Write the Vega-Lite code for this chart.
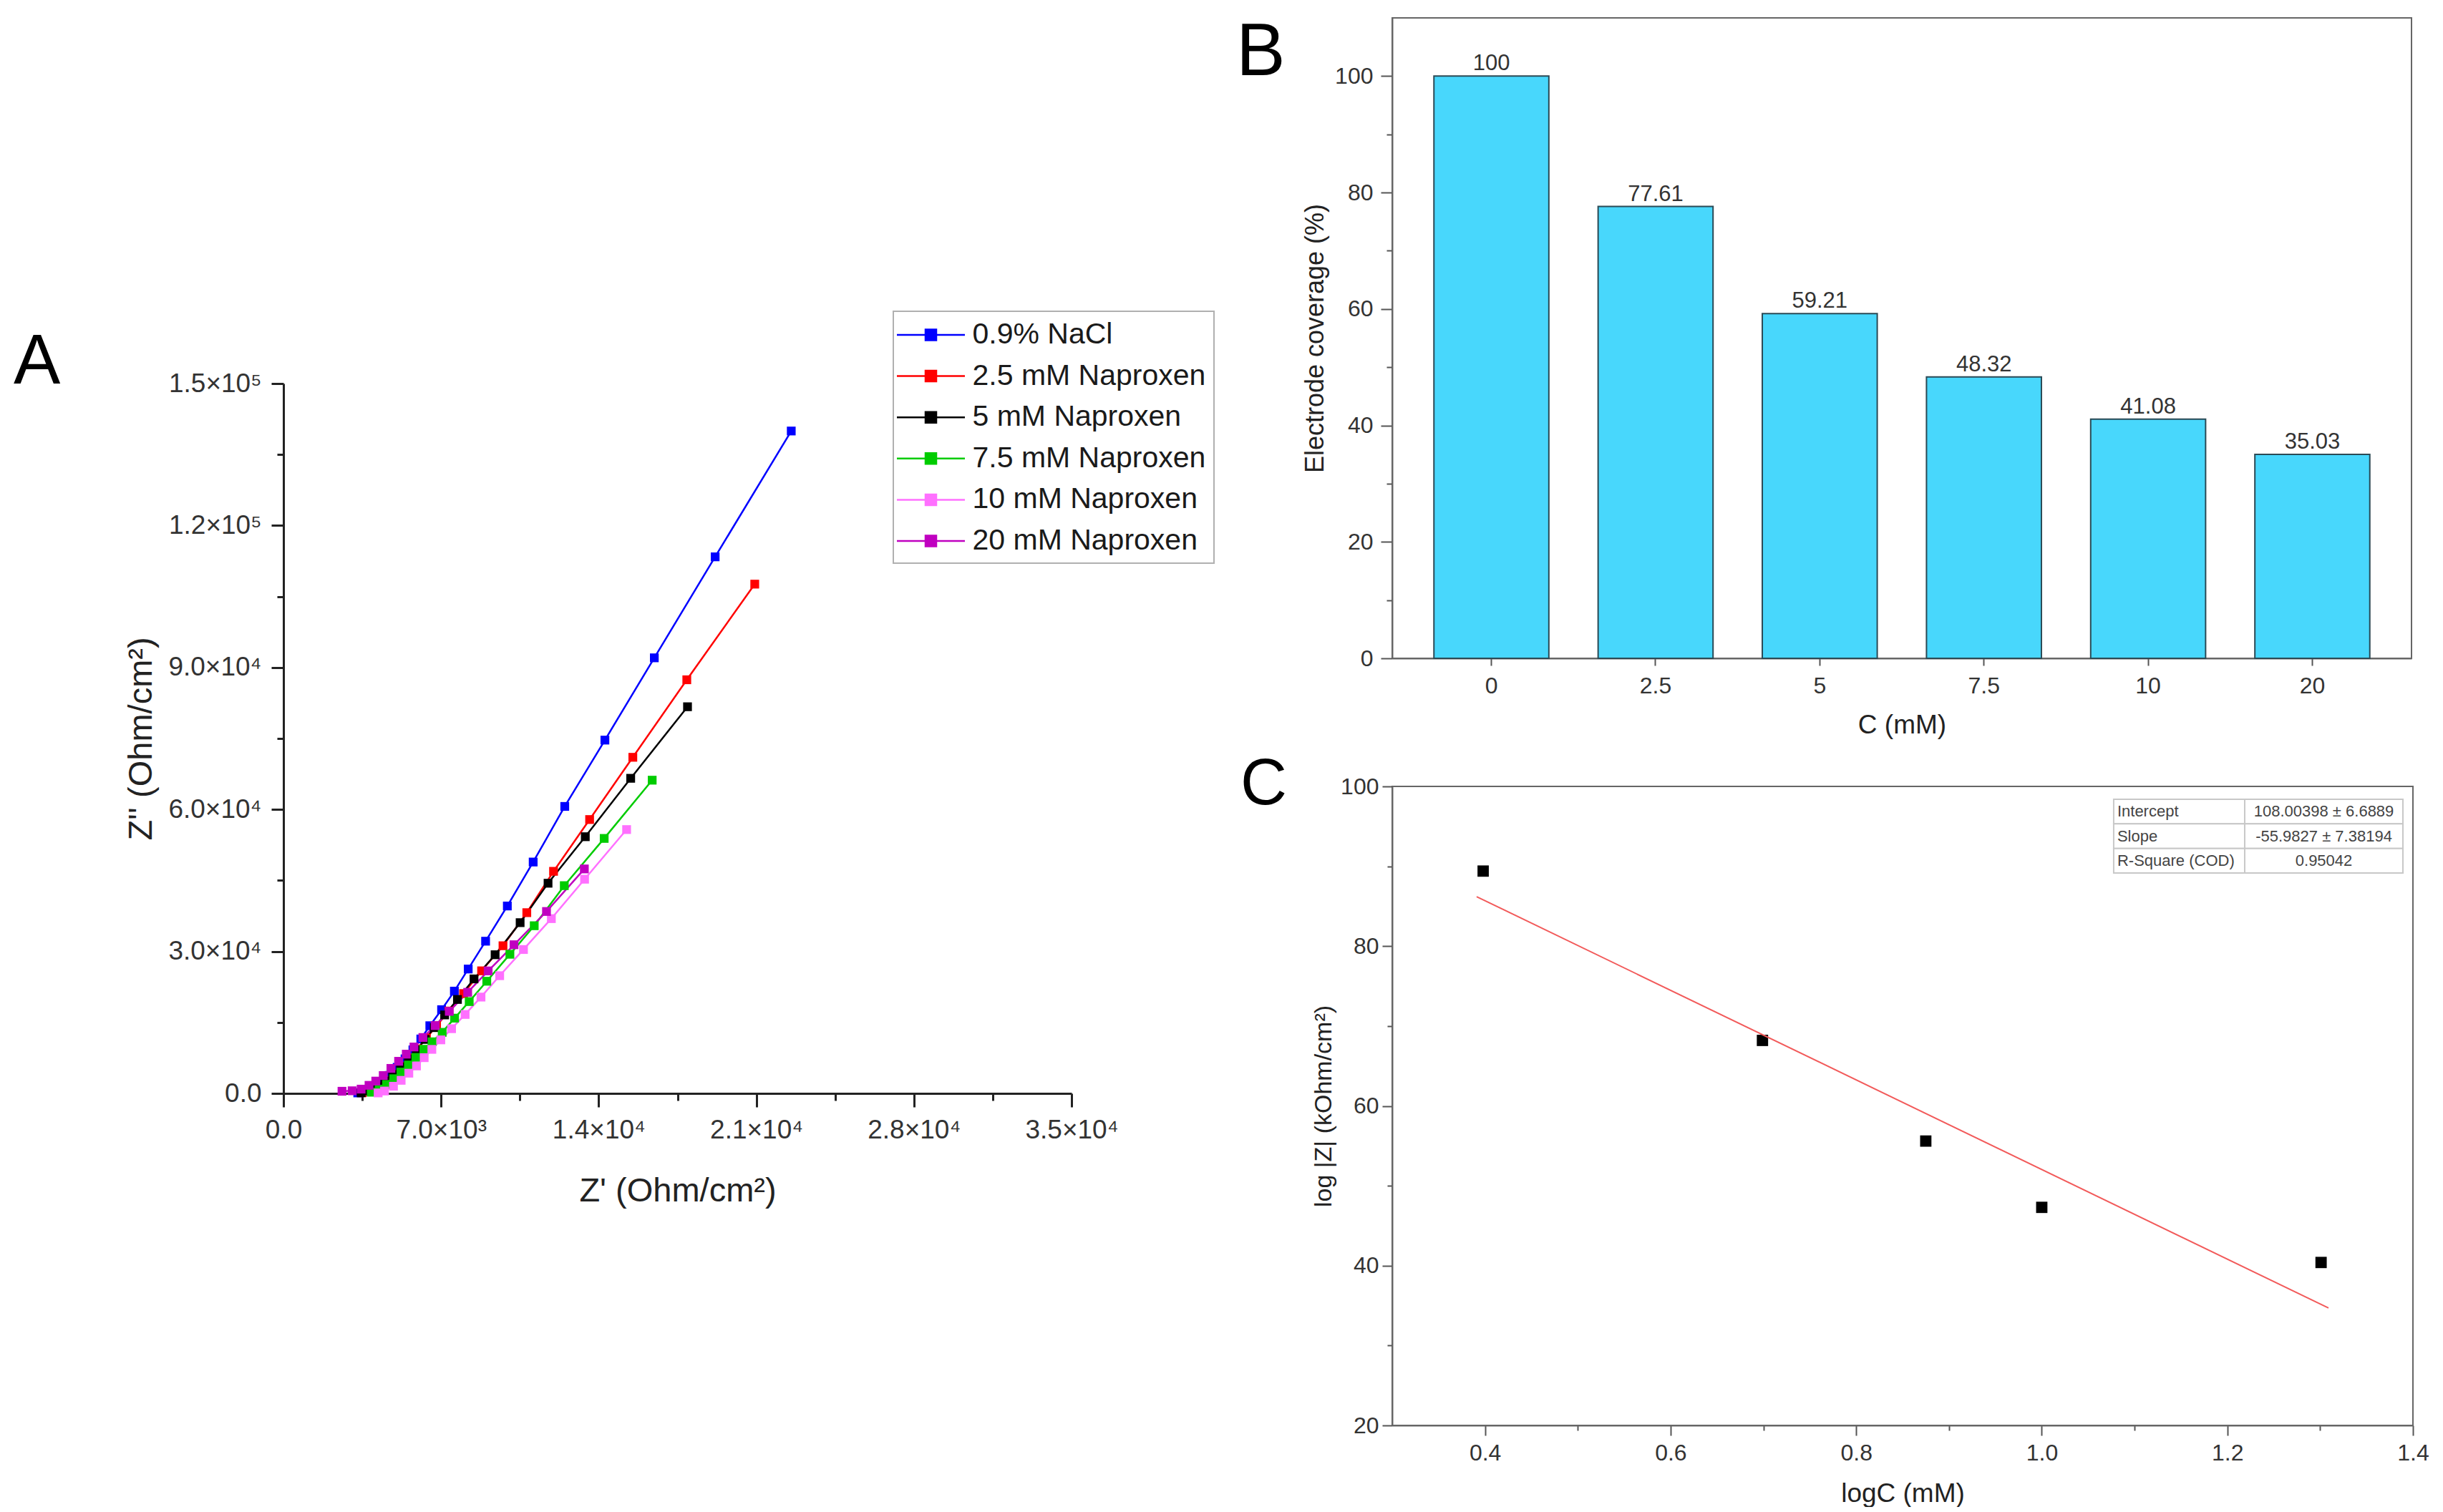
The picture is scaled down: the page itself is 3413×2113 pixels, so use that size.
{
  "$schema": "https://vega.github.io/schema/vega-lite/v6.json",
  "background": "white",
  "padding": {"left": 19, "top": 22, "right": 0, "bottom": 0},
  "config": {
    "view": {"stroke": null},
    "axis": {"grid": false, "labelOverlap": false, "labelFlush": false, "titleFontWeight": "normal"},
    "title": {"font": "Liberation Sans", "fontWeight": "normal", "color": "#000000", "anchor": "start", "frame": "group", "baseline": "alphabetic", "offset": 0}
  },
  "bounds": "flush",
  "spacing": 1549,
  "hconcat": [
    {
      "bounds": "flush",
      "spacing": 510,
      "vconcat": [
        {
          "width": 1,
          "height": 1,
          "data": {"values": [{}]},
          "mark": {"type": "point", "opacity": 0},
          "encoding": {}
        },
        {
          "width": 1101,
          "height": 992,
          "title": {"text": "A", "fontSize": 98, "dx": -377, "dy": 44},
          "data": {
            "values": [
              {"series": "0.9% NaCl", "zre": 3300, "zim": 100},
              {"series": "0.9% NaCl", "zre": 3650, "zim": 400},
              {"series": "0.9% NaCl", "zre": 4000, "zim": 1100},
              {"series": "0.9% NaCl", "zre": 4350, "zim": 2300},
              {"series": "0.9% NaCl", "zre": 4700, "zim": 3800},
              {"series": "0.9% NaCl", "zre": 5050, "zim": 5500},
              {"series": "0.9% NaCl", "zre": 5400, "zim": 7300},
              {"series": "0.9% NaCl", "zre": 5750, "zim": 9200},
              {"series": "0.9% NaCl", "zre": 6100, "zim": 11500},
              {"series": "0.9% NaCl", "zre": 6500, "zim": 14300},
              {"series": "0.9% NaCl", "zre": 7023, "zim": 17690},
              {"series": "0.9% NaCl", "zre": 7591, "zim": 21610},
              {"series": "0.9% NaCl", "zre": 8205, "zim": 26280},
              {"series": "0.9% NaCl", "zre": 8977, "zim": 32160},
              {"series": "0.9% NaCl", "zre": 9943, "zim": 39600},
              {"series": "0.9% NaCl", "zre": 11090, "zim": 48890},
              {"series": "0.9% NaCl", "zre": 12493, "zim": 60640},
              {"series": "0.9% NaCl", "zre": 14276, "zim": 74655},
              {"series": "0.9% NaCl", "zre": 16470, "zim": 92040},
              {"series": "0.9% NaCl", "zre": 19172, "zim": 113380},
              {"series": "0.9% NaCl", "zre": 22552, "zim": 139970},
              {"series": "2.5 mM Naproxen", "zre": 3500, "zim": 150},
              {"series": "2.5 mM Naproxen", "zre": 3850, "zim": 600},
              {"series": "2.5 mM Naproxen", "zre": 4200, "zim": 1500},
              {"series": "2.5 mM Naproxen", "zre": 4550, "zim": 2700},
              {"series": "2.5 mM Naproxen", "zre": 4900, "zim": 4100},
              {"series": "2.5 mM Naproxen", "zre": 5250, "zim": 5700},
              {"series": "2.5 mM Naproxen", "zre": 5600, "zim": 7500},
              {"series": "2.5 mM Naproxen", "zre": 5950, "zim": 9400},
              {"series": "2.5 mM Naproxen", "zre": 6350, "zim": 11700},
              {"series": "2.5 mM Naproxen", "zre": 6800, "zim": 14300},
              {"series": "2.5 mM Naproxen", "zre": 7350, "zim": 17400},
              {"series": "2.5 mM Naproxen", "zre": 8000, "zim": 21100},
              {"series": "2.5 mM Naproxen", "zre": 8800, "zim": 25900},
              {"series": "2.5 mM Naproxen", "zre": 9750, "zim": 31200},
              {"series": "2.5 mM Naproxen", "zre": 10807, "zim": 38190},
              {"series": "2.5 mM Naproxen", "zre": 11995, "zim": 46925},
              {"series": "2.5 mM Naproxen", "zre": 13597, "zim": 57870},
              {"series": "2.5 mM Naproxen", "zre": 15516, "zim": 71023},
              {"series": "2.5 mM Naproxen", "zre": 17913, "zim": 87403},
              {"series": "2.5 mM Naproxen", "zre": 20931, "zim": 107613},
              {"series": "5 mM Naproxen", "zre": 3450, "zim": 120},
              {"series": "5 mM Naproxen", "zre": 3800, "zim": 550},
              {"series": "5 mM Naproxen", "zre": 4150, "zim": 1400},
              {"series": "5 mM Naproxen", "zre": 4500, "zim": 2600},
              {"series": "5 mM Naproxen", "zre": 4850, "zim": 4000},
              {"series": "5 mM Naproxen", "zre": 5200, "zim": 5600},
              {"series": "5 mM Naproxen", "zre": 5550, "zim": 7300},
              {"series": "5 mM Naproxen", "zre": 5900, "zim": 9200},
              {"series": "5 mM Naproxen", "zre": 6300, "zim": 11400},
              {"series": "5 mM Naproxen", "zre": 6700, "zim": 13900},
              {"series": "5 mM Naproxen", "zre": 7159, "zim": 16580},
              {"series": "5 mM Naproxen", "zre": 7727, "zim": 19850},
              {"series": "5 mM Naproxen", "zre": 8463, "zim": 24190},
              {"series": "5 mM Naproxen", "zre": 9400, "zim": 29300},
              {"series": "5 mM Naproxen", "zre": 10511, "zim": 36080},
              {"series": "5 mM Naproxen", "zre": 11751, "zim": 44410},
              {"series": "5 mM Naproxen", "zre": 13405, "zim": 54240},
              {"series": "5 mM Naproxen", "zre": 15421, "zim": 66582},
              {"series": "5 mM Naproxen", "zre": 17945, "zim": 81703},
              {"series": "7.5 mM Naproxen", "zre": 3900, "zim": 250},
              {"series": "7.5 mM Naproxen", "zre": 4250, "zim": 900},
              {"series": "7.5 mM Naproxen", "zre": 4580, "zim": 1900},
              {"series": "7.5 mM Naproxen", "zre": 4900, "zim": 3100},
              {"series": "7.5 mM Naproxen", "zre": 5220, "zim": 4500},
              {"series": "7.5 mM Naproxen", "zre": 5550, "zim": 6000},
              {"series": "7.5 mM Naproxen", "zre": 5880, "zim": 7600},
              {"series": "7.5 mM Naproxen", "zre": 6236, "zim": 9320},
              {"series": "7.5 mM Naproxen", "zre": 6600, "zim": 10900},
              {"series": "7.5 mM Naproxen", "zre": 7050, "zim": 12900},
              {"series": "7.5 mM Naproxen", "zre": 7600, "zim": 15900},
              {"series": "7.5 mM Naproxen", "zre": 8250, "zim": 19400},
              {"series": "7.5 mM Naproxen", "zre": 9030, "zim": 23700},
              {"series": "7.5 mM Naproxen", "zre": 10057, "zim": 29400},
              {"series": "7.5 mM Naproxen", "zre": 11137, "zim": 35430},
              {"series": "7.5 mM Naproxen", "zre": 12472, "zim": 43900},
              {"series": "7.5 mM Naproxen", "zre": 14244, "zim": 53880},
              {"series": "7.5 mM Naproxen", "zre": 16376, "zim": 66185},
              {"series": "10 mM Naproxen", "zre": 4205, "zim": 100},
              {"series": "10 mM Naproxen", "zre": 4489, "zim": 500},
              {"series": "10 mM Naproxen", "zre": 4886, "zim": 1510},
              {"series": "10 mM Naproxen", "zre": 5227, "zim": 2760},
              {"series": "10 mM Naproxen", "zre": 5568, "zim": 4270},
              {"series": "10 mM Naproxen", "zre": 5909, "zim": 5800},
              {"series": "10 mM Naproxen", "zre": 6250, "zim": 7550},
              {"series": "10 mM Naproxen", "zre": 6591, "zim": 9300},
              {"series": "10 mM Naproxen", "zre": 6989, "zim": 11310},
              {"series": "10 mM Naproxen", "zre": 7466, "zim": 13670},
              {"series": "10 mM Naproxen", "zre": 8068, "zim": 16680},
              {"series": "10 mM Naproxen", "zre": 8773, "zim": 20350},
              {"series": "10 mM Naproxen", "zre": 9603, "zim": 24870},
              {"series": "10 mM Naproxen", "zre": 10659, "zim": 30400},
              {"series": "10 mM Naproxen", "zre": 11898, "zim": 36930},
              {"series": "10 mM Naproxen", "zre": 13373, "zim": 45260},
              {"series": "10 mM Naproxen", "zre": 15240, "zim": 55750},
              {"series": "20 mM Naproxen", "zre": 2600, "zim": 450},
              {"series": "20 mM Naproxen", "zre": 3050, "zim": 550},
              {"series": "20 mM Naproxen", "zre": 3450, "zim": 900},
              {"series": "20 mM Naproxen", "zre": 3800, "zim": 1700},
              {"series": "20 mM Naproxen", "zre": 4100, "zim": 2600},
              {"series": "20 mM Naproxen", "zre": 4432, "zim": 3770},
              {"series": "20 mM Naproxen", "zre": 4773, "zim": 5280},
              {"series": "20 mM Naproxen", "zre": 5114, "zim": 6780},
              {"series": "20 mM Naproxen", "zre": 5455, "zim": 8290},
              {"series": "20 mM Naproxen", "zre": 5796, "zim": 9800},
              {"series": "20 mM Naproxen", "zre": 6193, "zim": 11810},
              {"series": "20 mM Naproxen", "zre": 6739, "zim": 14320},
              {"series": "20 mM Naproxen", "zre": 7364, "zim": 17340},
              {"series": "20 mM Naproxen", "zre": 8182, "zim": 21360},
              {"series": "20 mM Naproxen", "zre": 9091, "zim": 25880},
              {"series": "20 mM Naproxen", "zre": 10239, "zim": 31410},
              {"series": "20 mM Naproxen", "zre": 11682, "zim": 38440},
              {"series": "20 mM Naproxen", "zre": 13363, "zim": 47430}
            ]
          },
          "encoding": {
            "x": {
              "field": "zre",
              "type": "quantitative",
              "scale": {"domain": [0, 35000], "nice": false, "zero": false},
              "axis": {
                "title": "Z' (Ohm/cm²)",
                "values": [0, 3500, 7000, 10500, 14000, 17500, 21000, 24500, 28000, 31500, 35000],
                "labelExpr": "datum.value == 0 ? '0.0' : (datum.value % 7000 != 0 ? '' : format(datum.value / pow(10, floor(log(datum.value) / LN10 + 1e-9)), '.1f') + '×10' + substring('⁰¹²³⁴⁵⁶⁷⁸⁹', floor(log(datum.value) / LN10 + 1e-9), floor(log(datum.value) / LN10 + 1e-9) + 1))",
                "tickSize": {"condition": {"test": "datum.value % 7000 == 0", "value": 19}, "value": 10},
                "tickWidth": 3,
                "tickColor": "#222222",
                "domainColor": "#222222",
                "domainWidth": 3,
                "labelFont": "Liberation Sans",
                "labelFontSize": 37,
                "labelColor": "#333333",
                "labelPadding": 14,
                "titleFont": "Liberation Sans",
                "titleFontSize": 47,
                "titleColor": "#222222",
                "titlePadding": 44
              }
            },
            "y": {
              "field": "zim",
              "type": "quantitative",
              "scale": {"domain": [0, 150000], "nice": false, "zero": false},
              "axis": {
                "title": "Z'' (Ohm/cm²)",
                "values": [0, 15000, 30000, 45000, 60000, 75000, 90000, 105000, 120000, 135000, 150000],
                "labelExpr": "datum.value == 0 ? '0.0' : (datum.value % 30000 != 0 ? '' : format(datum.value / pow(10, floor(log(datum.value) / LN10 + 1e-9)), '.1f') + '×10' + substring('⁰¹²³⁴⁵⁶⁷⁸⁹', floor(log(datum.value) / LN10 + 1e-9), floor(log(datum.value) / LN10 + 1e-9) + 1))",
                "tickSize": {"condition": {"test": "datum.value % 30000 == 0", "value": 17}, "value": 9},
                "tickWidth": 3,
                "tickColor": "#222222",
                "domainColor": "#222222",
                "domainWidth": 3,
                "labelFont": "Liberation Sans",
                "labelFontSize": 37,
                "labelColor": "#333333",
                "labelPadding": 14,
                "titleFont": "Liberation Sans",
                "titleFontSize": 47,
                "titleColor": "#222222",
                "titlePadding": 13
              }
            },
            "color": {
              "field": "series",
              "type": "nominal",
              "scale": {
                "domain": ["0.9% NaCl", "2.5 mM Naproxen", "5 mM Naproxen", "7.5 mM Naproxen", "10 mM Naproxen", "20 mM Naproxen"],
                "range": ["#0000ff", "#ff0000", "#000000", "#00cc00", "#ff70ff", "#c000c0"]
              },
              "legend": {
                "title": null,
                "orient": "none",
                "legendX": 852,
                "legendY": 410,
                "direction": "vertical",
                "symbolType": "M-2.317,0H2.317M-0.366,-0.366H0.366V0.366H-0.366Z",
                "symbolSize": 1681,
                "symbolOffset": 19.5,
                "symbolStrokeWidth": 2.5,
                "symbolOpacity": 1,
                "labelFont": "Liberation Sans",
                "labelFontSize": 41,
                "labelColor": "#1a1a1a",
                "labelOffset": 36,
                "labelLimit": 1000,
                "rowPadding": 15.6,
                "padding": 11,
                "strokeColor": "#b0b0b0",
                "encode": {"legend": {"update": {"strokeWidth": {"value": 2}}}}
              }
            }
          },
          "layer": [
            {"mark": {"type": "line", "strokeWidth": 2.5}},
            {"mark": {"type": "point", "shape": "square", "filled": true, "size": 150, "opacity": 1}}
          ]
        }
      ]
    },
    {
      "bounds": "flush",
      "spacing": 179,
      "vconcat": [
        {
          "width": 1424,
          "height": 895,
          "view": {"stroke": "#666666", "strokeWidth": 2},
          "title": {"text": "B", "fontSize": 103, "dx": -218, "dy": 106},
          "data": {
            "values": [
              {"conc": "0", "coverage": 100},
              {"conc": "2.5", "coverage": 77.61},
              {"conc": "5", "coverage": 59.21},
              {"conc": "7.5", "coverage": 48.32},
              {"conc": "10", "coverage": 41.08},
              {"conc": "20", "coverage": 35.03}
            ]
          },
          "encoding": {
            "x": {
              "field": "conc",
              "type": "nominal",
              "sort": ["0", "2.5", "5", "7.5", "10", "20"],
              "scale": {"paddingInner": 0.3, "paddingOuter": 0.254},
              "axis": {
                "title": "C (mM)",
                "labelAngle": 0,
                "tickSize": 10,
                "tickWidth": 2,
                "tickColor": "#555555",
                "domainColor": "#666666",
                "domainWidth": 2,
                "labelFont": "Liberation Sans",
                "labelFontSize": 32,
                "labelColor": "#333333",
                "labelPadding": 13,
                "titleFont": "Liberation Sans",
                "titleFontSize": 37,
                "titleColor": "#222222",
                "titlePadding": 21
              }
            },
            "y": {
              "field": "coverage",
              "type": "quantitative",
              "scale": {"domain": [0, 110], "nice": false, "zero": false},
              "axis": {
                "title": "Electrode coverage (%)",
                "values": [0, 10, 20, 30, 40, 50, 60, 70, 80, 90, 100],
                "labelExpr": "datum.value % 20 == 0 ? datum.label : ''",
                "tickSize": {"condition": {"test": "datum.value % 20 == 0", "value": 16}, "value": 8},
                "tickWidth": 2,
                "tickColor": "#555555",
                "domainColor": "#666666",
                "domainWidth": 2,
                "labelFont": "Liberation Sans",
                "labelFontSize": 32,
                "labelColor": "#333333",
                "labelPadding": 11,
                "titleFont": "Liberation Sans",
                "titleFontSize": 36,
                "titleColor": "#222222",
                "titlePadding": 8
              }
            }
          },
          "layer": [
            {"mark": {"type": "bar", "fill": "#48d7fc", "stroke": "#2b4a55", "strokeWidth": 2}},
            {
              "mark": {"type": "text", "baseline": "alphabetic", "dy": -8, "font": "Liberation Sans", "fontSize": 31, "color": "#333333"},
              "encoding": {"text": {"field": "coverage", "type": "quantitative"}}
            }
          ]
        },
        {
          "width": 1426,
          "height": 893,
          "view": {"stroke": "#666666", "strokeWidth": 2},
          "title": {"text": "C", "fontSize": 90, "dx": -212, "dy": 64},
          "resolve": {"scale": {"y": "independent"}},
          "layer": [
            {
              "data": {
                "values": [
                  {"logC": 0.398, "logZ": 89.4},
                  {"logC": 0.699, "logZ": 68.2},
                  {"logC": 0.875, "logZ": 55.6},
                  {"logC": 1.0, "logZ": 47.3},
                  {"logC": 1.301, "logZ": 40.4}
                ]
              },
              "mark": {"type": "square", "size": 250, "color": "#000000", "opacity": 1},
              "encoding": {
                "x": {
                  "field": "logC",
                  "type": "quantitative",
                  "scale": {"domain": [0.3, 1.4], "nice": false, "zero": false},
                  "axis": {
                    "title": "logC (mM)",
                    "values": [0.4, 0.5, 0.6, 0.7, 0.8, 0.9, 1.0, 1.1, 1.2, 1.3, 1.4],
                    "labelExpr": "round(datum.value * 10) % 2 == 0 ? format(datum.value, '.1f') : ''",
                    "tickSize": {"condition": {"test": "round(datum.value * 10) % 2 == 0", "value": 14}, "value": 7},
                    "tickWidth": 2,
                    "tickColor": "#555555",
                    "domainColor": "#666666",
                    "domainWidth": 2,
                    "labelFont": "Liberation Sans",
                    "labelFontSize": 32,
                    "labelColor": "#333333",
                    "labelPadding": 9,
                    "titleFont": "Liberation Sans",
                    "titleFontSize": 37,
                    "titleColor": "#222222",
                    "titlePadding": 23
                  }
                },
                "y": {
                  "field": "logZ",
                  "type": "quantitative",
                  "scale": {"domain": [20, 100], "nice": false, "zero": false},
                  "axis": {
                    "title": "log |Z| (kOhm/cm²)",
                    "values": [20, 30, 40, 50, 60, 70, 80, 90, 100],
                    "labelExpr": "datum.value % 20 == 0 ? datum.label : ''",
                    "tickSize": {"condition": {"test": "datum.value % 20 == 0", "value": 14}, "value": 7},
                    "tickWidth": 2,
                    "tickColor": "#555555",
                    "domainColor": "#666666",
                    "domainWidth": 2,
                    "labelFont": "Liberation Sans",
                    "labelFontSize": 32,
                    "labelColor": "#333333",
                    "labelPadding": 5,
                    "titleFont": "Liberation Sans",
                    "titleFontSize": 34,
                    "titleColor": "#222222",
                    "titlePadding": 6
                  }
                }
              }
            },
            {
              "data": {
                "values": [
                  {"logC": 0.391, "logZ": 86.2},
                  {"logC": 1.309, "logZ": 34.7}
                ]
              },
              "mark": {"type": "line", "color": "#f25a5a", "strokeWidth": 2},
              "encoding": {
                "x": {"field": "logC", "type": "quantitative"},
                "y": {"field": "logZ", "type": "quantitative", "scale": {"domain": [20, 100], "nice": false, "zero": false}, "axis": null}
              }
            },
            {
              "data": {
                "values": [
                  {"item": "Intercept", "val": "108.00398 ± 6.6889"},
                  {"item": "Slope", "val": "-55.9827 ± 7.38194"},
                  {"item": "R-Square (COD)", "val": "0.95042"}
                ]
              },
              "encoding": {
                "y": {
                  "field": "item",
                  "type": "nominal",
                  "sort": ["Intercept", "Slope", "R-Square (COD)"],
                  "scale": {"range": [18, 121], "paddingInner": 0, "paddingOuter": 0},
                  "axis": null
                }
              },
              "layer": [
                {
                  "mark": {"type": "rect", "fill": "white", "stroke": "#c8c8c8", "strokeWidth": 2},
                  "encoding": {"x": {"datum": 1.0775}, "x2": {"datum": 1.2187}}
                },
                {
                  "mark": {"type": "rect", "fill": "white", "stroke": "#c8c8c8", "strokeWidth": 2},
                  "encoding": {"x": {"datum": 1.2187}, "x2": {"datum": 1.3892}}
                },
                {
                  "mark": {"type": "text", "align": "left", "dx": 5, "font": "Liberation Sans", "fontSize": 22, "color": "#444444"},
                  "encoding": {"x": {"datum": 1.0775}, "text": {"field": "item"}}
                },
                {
                  "mark": {"type": "text", "align": "center", "font": "Liberation Sans", "fontSize": 22, "color": "#444444"},
                  "encoding": {"x": {"datum": 1.304}, "text": {"field": "val"}}
                }
              ]
            }
          ]
        }
      ]
    }
  ]
}
